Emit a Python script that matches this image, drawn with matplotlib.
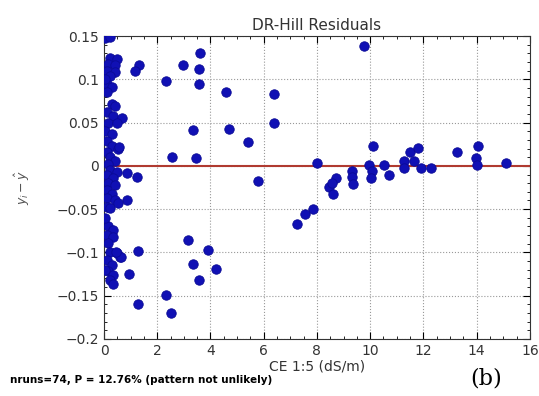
import matplotlib
matplotlib.use('Agg')
import matplotlib.pyplot as plt
from matplotlib.ticker import AutoMinorLocator

# Residuen nahe x=0 (dichte Spalte)
x_col = [0.04, 0.23, 0.23, 0.48, 0.16, 0.41, 0.10, 0.41, 0.23, 0.10, 0.29, 0.10,
         0.29, 0.41, 0.10, 0.35, 0.66, 0.16, 0.48, 0.04, 0.29, 0.10, 0.29, 0.54,
         0.10, 0.23, 0.41, 0.16,
         0.23, 0.48, 0.10, 0.35, 0.16, 0.41, 0.10, 0.29, 0.10, 0.41, 0.10, 0.23,
         0.16, 0.35, 0.10, 0.35, 0.16, 0.23, 0.48, 0.60, 0.10, 0.29, 0.16, 0.35,
         0.23, 0.35, 0.04, 0.04, 0.04]
y_col = [0.148, 0.1485, 0.125, 0.123, 0.118, 0.116, 0.110, 0.108, 0.104, 0.0945, 0.091, 0.085,
         0.0715, 0.0695, 0.062, 0.058, 0.055, 0.050, 0.050, 0.040, 0.037, 0.029, 0.023, 0.019,
         0.0157, 0.010, 0.006, 0.002,
         -0.0048, -0.0067, -0.0106, -0.0144, -0.020, -0.022, -0.028, -0.032, -0.0375, -0.0395, -0.047, -0.049,
         -0.070, -0.074, -0.080, -0.082, -0.0895, -0.099, -0.101, -0.105, -0.109, -0.1145, -0.122, -0.126,
         -0.132, -0.136, 0.100, -0.060, -0.120]

# restliche Punkte
x_rest = [3.61, 2.96, 3.56, 2.33, 3.56, 4.59, 6.39, 3.36, 4.71, 6.39, 5.41, 2.56, 3.46,
          8.02, 5.77, 8.72, 8.45, 8.62, 7.84, 7.57, 7.24, 3.17, 3.91, 3.36, 4.19, 3.58,
          2.31, 2.51, 1.27, 1.27, 0.92, 0.86, 0.86, 1.24, 0.51, 0.64, 0.44, 1.32, 1.17,
          0.56, 9.75, 10.12, 11.48, 11.78, 13.26, 14.06, 13.96, 14.01, 15.09, 11.28, 11.63,
          11.28, 11.90, 12.30, 10.53, 10.70, 9.95, 10.08, 10.02, 9.32, 9.32, 9.35, 8.55]
y_rest = [0.130, 0.117, 0.112, 0.098, 0.0945, 0.085, 0.083, 0.041, 0.0426, 0.0495, 0.027, 0.0106, 0.0087,
          0.003, -0.018, -0.014, -0.024, -0.032, -0.0495, -0.0556, -0.067, -0.0857, -0.097, -0.113, -0.1195, -0.1315,
          -0.149, -0.170, -0.160, -0.098, -0.125, -0.040, -0.0086, -0.013, -0.0426, -0.105, -0.099, 0.117, 0.110,
          0.0214, 0.139, 0.023, 0.016, 0.0206, 0.016, 0.023, 0.009, 0.0006, 0.003, 0.0053, 0.006,
          -0.0025, -0.003, -0.0025, 0.0006, -0.010, 0.0006, -0.0063, -0.014, -0.0056, -0.013, -0.021, -0.020]

x = x_col + x_rest
y = y_col + y_rest

fig = plt.figure(figsize=(5.39, 3.96), dpi=100)
ax = fig.add_axes([0.193, 0.144, 0.79, 0.765])

ax.axhline(0, color='#b03a30', lw=1.5, zorder=2)
ax.plot(x, y, 'o', color='#1010b4', mec='#0a0a96', mew=0.6, ms=6.8, zorder=3)

ax.set_xlim(0, 16)
ax.set_ylim(-0.2, 0.15)
ax.set_xticks(range(0, 17, 2))
ax.set_yticks([-0.2, -0.15, -0.1, -0.05, 0, 0.05, 0.1, 0.15])
ax.set_yticklabels(['\u22120.2', '\u22120.15', '\u22120.1', '\u22120.05', '0', '0.05', '0.1', '0.15'])
ax.xaxis.set_minor_locator(AutoMinorLocator(4))
ax.yaxis.set_minor_locator(AutoMinorLocator(5))
ax.tick_params(which='both', direction='in', top=True, right=True, labelsize=10, labelcolor='#333333')
ax.tick_params(which='major', length=5)
ax.tick_params(which='minor', length=2.5)
ax.grid(True, which='major', ls=':', color='#999999', lw=0.8)
for s in ax.spines.values():
    s.set_color('#333333')

ax.set_title('DR-Hill Residuals', fontsize=11, color='#333333', pad=4)
ax.set_xlabel('CE 1:5 (dS/m)', fontsize=10, color='#333333', labelpad=1)
ax.set_ylabel(r'$y_i - \hat{y}$', fontsize=9, color='#555555', labelpad=18)

fig.text(0.018, 0.032, 'nruns=74, P = 12.76% (pattern not unlikely)', fontsize=7.5, fontweight='bold')
fig.text(0.872, 0.028, '(b)', fontsize=16, family='DejaVu Serif')

fig.savefig('out.png', dpi=100)
